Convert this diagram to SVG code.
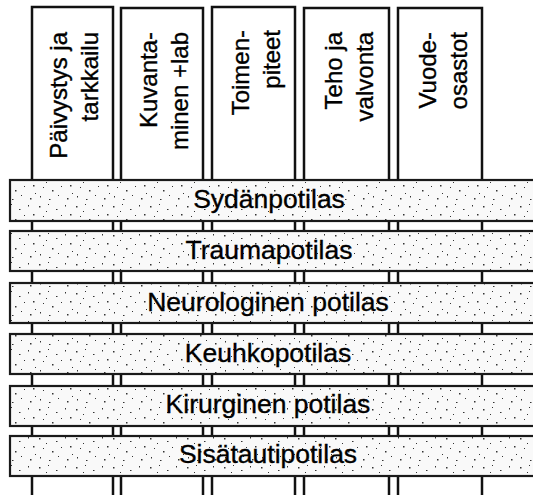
<svg xmlns="http://www.w3.org/2000/svg" width="533" height="495" viewBox="0 0 533 495">
<style>
.col{fill:#fff;stroke:#111;stroke-width:2.5}
.band{fill:url(#stip);stroke:#1a1a1a;stroke-width:2.2}
.ct{font-family:"Liberation Sans",Arial,sans-serif;font-size:24px;fill:#000;stroke:#000;stroke-width:0.35;text-anchor:end}
.bt{font-family:"Liberation Sans",Arial,sans-serif;font-size:26.5px;fill:#000;stroke:#000;stroke-width:0.35;text-anchor:middle}
</style>
<defs>
<pattern id="stip" width="37" height="29" patternUnits="userSpaceOnUse">
<rect width="37" height="29" fill="#f9f9f9"/>
<g fill="#333">
<rect x="2" y="3" width="1.5" height="1.5"/>
<rect x="11" y="1" width="1" height="1"/>
<rect x="19" y="6" width="1.5" height="1"/>
<rect x="28" y="2" width="1" height="1.5"/>
<rect x="33" y="11" width="1.5" height="1.5"/>
<rect x="6" y="13" width="1" height="1"/>
<rect x="15" y="16" width="1.5" height="1.5"/>
<rect x="24" y="12" width="1" height="1"/>
<rect x="3" y="22" width="1" height="1.5"/>
<rect x="12" y="25" width="1.5" height="1"/>
<rect x="21" y="21" width="1" height="1"/>
<rect x="30" y="24" width="1.5" height="1.5"/>
<rect x="35" y="19" width="1" height="1"/>
<rect x="9" y="8" width="1" height="1"/>
</g>
</pattern>
</defs>
<g id="columns">
<g id="col-paivystys">
<rect class="col" x="32" y="7" width="81" height="495"/>
<text class="ct" transform="translate(67,32) rotate(-90)">Päivystys ja</text>
<text class="ct" transform="translate(98,32) rotate(-90)">tarkkailu</text>
</g>
<g id="col-kuvantaminen">
<rect class="col" x="121" y="8" width="82" height="495"/>
<text class="ct" transform="translate(157,32) rotate(-90)">Kuvanta-</text>
<text class="ct" transform="translate(188,32) rotate(-90)">minen +lab</text>
</g>
<g id="col-toimenpiteet">
<rect class="col" x="212" y="7" width="83" height="495"/>
<text class="ct" transform="translate(249,30) rotate(-90)">Toimen-</text>
<text class="ct" transform="translate(280,30) rotate(-90)">piteet</text>
</g>
<g id="col-teho">
<rect class="col" x="304" y="8" width="85" height="495"/>
<text class="ct" transform="translate(342,32) rotate(-90)">Teho ja</text>
<text class="ct" transform="translate(373,32) rotate(-90)">valvonta</text>
</g>
<g id="col-vuodeosastot">
<rect class="col" x="398" y="8" width="84" height="495"/>
<text class="ct" transform="translate(436,32) rotate(-90)">Vuode-</text>
<text class="ct" transform="translate(467,32) rotate(-90)">osastot</text>
</g>
</g>
<g id="connectors"></g>
<g id="rows">
<g id="row-sydan">
<rect class="band" x="10" y="180" width="530" height="41"/>
<text class="bt" x="269" y="208">Sydänpotilas</text>
</g>
<g id="row-trauma">
<rect class="band" x="10" y="231" width="530" height="40"/>
<text class="bt" x="269" y="259">Traumapotilas</text>
</g>
<g id="row-neuro">
<rect class="band" x="10" y="283" width="530" height="40"/>
<text class="bt" x="268" y="311">Neurologinen potilas</text>
</g>
<g id="row-keuhko">
<rect class="band" x="10" y="334" width="530" height="40"/>
<text class="bt" x="268" y="362">Keuhkopotilas</text>
</g>
<g id="row-kirurg">
<rect class="band" x="10" y="386" width="530" height="40"/>
<text class="bt" x="268" y="413">Kirurginen potilas</text>
</g>
<g id="row-sisatauti">
<rect class="band" x="10" y="436" width="530" height="40"/>
<text class="bt" x="268" y="463">Sisätautipotilas</text>
</g>
</g>
</svg>
